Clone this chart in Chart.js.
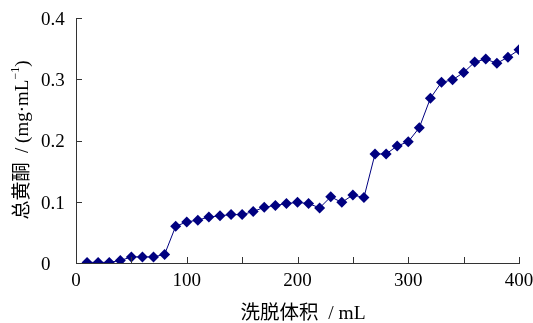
<!DOCTYPE html>
<html lang="zh-CN">
  <head>
    <meta charset="UTF-8" />
    <title>总黄酮洗脱曲线</title>
    <script src="https://cdn.jsdelivr.net/npm/chart.js"></script>
    <style>
      body { margin: 0; background: #fff; }
    </style>
  </head>
  <body>
    <canvas id="elution" width="533" height="323"></canvas>

    <script>
      // data
      const volume = [10, 20, 30, 40, 50, 60, 70, 80, 90, 100,
        110, 120, 130, 140, 150, 160, 170, 180, 190, 200,
        210, 220, 230, 240, 250, 260, 270, 280, 290, 300,
        310, 320, 330, 340, 350, 360, 370, 380, 390, 400];
      const flavonoid = [0.001, 0.001, 0.001, 0.004, 0.010, 0.010, 0.010, 0.014, 0.060, 0.067,
        0.070, 0.075, 0.077, 0.079, 0.079, 0.084, 0.091, 0.094, 0.097, 0.099,
        0.097, 0.090, 0.108, 0.099, 0.111, 0.107, 0.178, 0.178, 0.191, 0.198,
        0.221, 0.269, 0.295, 0.299, 0.311, 0.328, 0.333, 0.326, 0.336, 0.348];
      const xTicks = [0, 100, 200, 300, 400];
      const yTicks = [0, 0.1, 0.2, 0.3, 0.4];
      const xTitle = "洗脱体积  / mL";

      const serif = "'Liberation Serif', 'Times New Roman', serif";
      const titleFont = "'Liberation Serif', 'Noto Sans CJK SC', serif";
      const navy = "#000080";

      // inward tick marks + axis titles (y one has a superscript)
      const extras = {
        id: "extras",
        afterDraw(chart) {
          const ctx = chart.ctx;
          const { x, y } = chart.scales;
          const area = chart.chartArea;
          ctx.save();
          ctx.strokeStyle = "#333";
          ctx.lineWidth = 1;
          ctx.beginPath();
          x.ticks.forEach((t) => {
            if (t.value === 0) return;
            const px = Math.round(x.getPixelForValue(t.value)) + 0.5;
            ctx.moveTo(px, area.bottom);
            ctx.lineTo(px, area.bottom - 6);
          });
          y.ticks.forEach((t) => {
            if (t.value === 0) return;
            const py = Math.round(y.getPixelForValue(t.value)) + 0.5;
            ctx.moveTo(area.left, py);
            ctx.lineTo(area.left + 6, py);
          });
          ctx.stroke();

          ctx.fillStyle = "#000";
          ctx.textBaseline = "middle";

          // x title
          ctx.font = "19.5px " + titleFont;
          ctx.textAlign = "center";
          ctx.fillText(xTitle, 303, 314);

          // y title
          const main = "总黄酮  / (mg·mL";
          const sup = "−1";
          const tail = ")";
          ctx.font = "19px " + titleFont;
          const wMain = ctx.measureText(main).width;
          const wTail = ctx.measureText(tail).width;
          ctx.font = "12px " + serif;
          const wSup = ctx.measureText(sup).width;
          const total = wMain + wSup + wTail;
          ctx.translate(23, 140);
          ctx.rotate(-Math.PI / 2);
          ctx.textAlign = "left";
          let cx = -total / 2;
          ctx.font = "19px " + titleFont;
          ctx.fillText(main, cx, 0);
          cx += wMain;
          ctx.font = "12px " + serif;
          ctx.fillText(sup, cx, -7);
          cx += wSup;
          ctx.font = "19px " + titleFont;
          ctx.fillText(tail, cx, 0);
          ctx.restore();
        },
      };

      new Chart(document.getElementById("elution"), {
        type: "line",
        data: {
          datasets: [
            {
              data: volume.map((v, i) => ({ x: v, y: flavonoid[i] })),
              borderColor: navy,
              backgroundColor: navy,
              borderWidth: 1,
              pointStyle: "rectRot",
              pointRadius: 5.5,
              pointBorderWidth: 0,
              tension: 0,
            },
          ],
        },
        options: {
          responsive: false,
          animation: false,
          layout: { padding: { left: 41, right: 14, top: 18, bottom: 0 } },
          plugins: { legend: { display: false }, tooltip: { enabled: false } },
          scales: {
            x: {
              type: "linear",
              min: 0,
              max: 400,
              grid: { display: false, drawTicks: false },
              border: { display: true, color: "#333", width: 1 },
              afterFit: (s) => {
                s.height = 60;
                s.paddingLeft = 0;
                s.paddingRight = 0;
              },
              ticks: {
                stepSize: 50,
                padding: 7,
                color: "#000",
                font: { family: serif, size: 19 },
                autoSkip: false,
                maxRotation: 0,
                callback: (v) => (xTicks.includes(v) ? v : ""),
              },
            },
            y: {
              min: 0,
              max: 0.4,
              grid: { display: false, drawTicks: false },
              border: { display: true, color: "#333", width: 1 },
              afterFit: (s) => {
                s.width = 35;
                s.paddingTop = 0;
                s.paddingBottom = 0;
              },
              ticks: {
                stepSize: 0.1,
                crossAlign: "far",
                padding: 10,
                labelOffset: 2,
                color: "#000",
                font: { family: serif, size: 19 },
                callback: (v) => {
                  const t = yTicks.find((k) => Math.abs(k - v) < 1e-9);
                  return t === undefined ? "" : String(t);
                },
              },
            },
          },
        },
        plugins: [extras],
      });
    </script>
  </body>
</html>
